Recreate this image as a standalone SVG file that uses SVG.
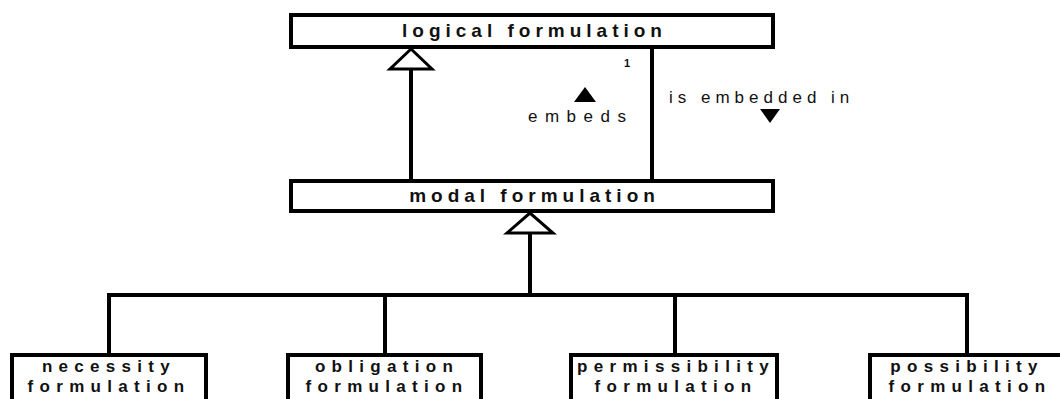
<svg xmlns="http://www.w3.org/2000/svg" width="1060" height="399" viewBox="0 0 1060 399">
<style>
.box{fill:#fff;stroke:#000;stroke-width:4}
.ln{fill:none;stroke:#000;stroke-width:4}
.gen{fill:#fff;stroke:#000;stroke-width:3;stroke-linejoin:miter}
.t1{font-family:"Liberation Sans",Arial,sans-serif;font-weight:bold;font-size:19px;letter-spacing:5px;fill:#111;text-anchor:middle}
.t2{font-family:"Liberation Sans",Arial,sans-serif;font-weight:bold;font-size:17px;letter-spacing:6.3px;fill:#111;text-anchor:middle}
.lbl{font-family:"Liberation Sans",Arial,sans-serif;font-size:17px;letter-spacing:5px;fill:#111}
.sm{font-family:"Liberation Sans",Arial,sans-serif;font-size:11px;font-weight:bold;fill:#111}
</style>
<rect width="1060" height="399" fill="#fff"/>
<g id="connectors">
  <line class="ln" x1="411" y1="69" x2="411" y2="181"/>
  <polygon class="gen" points="411,49 390,69 432,69"/>
  <line class="ln" x1="652" y1="47" x2="652" y2="181"/>
  <text class="sm" x="624" y="67">1</text>
  <polygon points="585,87 574,102 596,102" fill="#000"/>
  <text class="lbl" x="528" y="122" style="letter-spacing:7.5px">embeds</text>
  <text class="lbl" x="669" y="103">is embedded in</text>
  <polygon points="760,109 780,109 770,123" fill="#000"/>
  <line class="ln" x1="530" y1="233" x2="530" y2="295"/>
  <polygon class="gen" points="530,213 507,233 553,233"/>
  <polyline class="ln" points="109,355 109,295 967,295 967,355"/>
  <line class="ln" x1="385" y1="295" x2="385" y2="355"/>
  <line class="ln" x1="675" y1="295" x2="675" y2="355"/>
</g>
<g id="logical">
  <rect class="box" x="291" y="15" width="482" height="32"/>
  <text class="t1" x="534.5" y="37">logical formulation</text>
</g>
<g id="modal">
  <rect class="box" x="291" y="181" width="482" height="30"/>
  <text class="t1" x="534.5" y="202">modal formulation</text>
</g>
<g id="necessity">
  <rect class="box" x="12" y="355" width="194" height="70"/>
  <text class="t2" x="109" y="372">necessity</text>
  <text class="t2" x="109" y="392">formulation</text>
</g>
<g id="obligation">
  <rect class="box" x="288" y="355" width="193" height="70"/>
  <text class="t2" x="387" y="372">obligation</text>
  <text class="t2" x="387" y="392">formulation</text>
</g>
<g id="permissibility">
  <rect class="box" x="571" y="355" width="206" height="70"/>
  <text class="t2" x="676" y="372">permissibility</text>
  <text class="t2" x="676" y="392">formulation</text>
</g>
<g id="possibility">
  <rect class="box" x="870" y="355" width="200" height="70"/>
  <text class="t2" x="967" y="372">possibility</text>
  <text class="t2" x="970" y="392">formulation</text>
</g>
</svg>
